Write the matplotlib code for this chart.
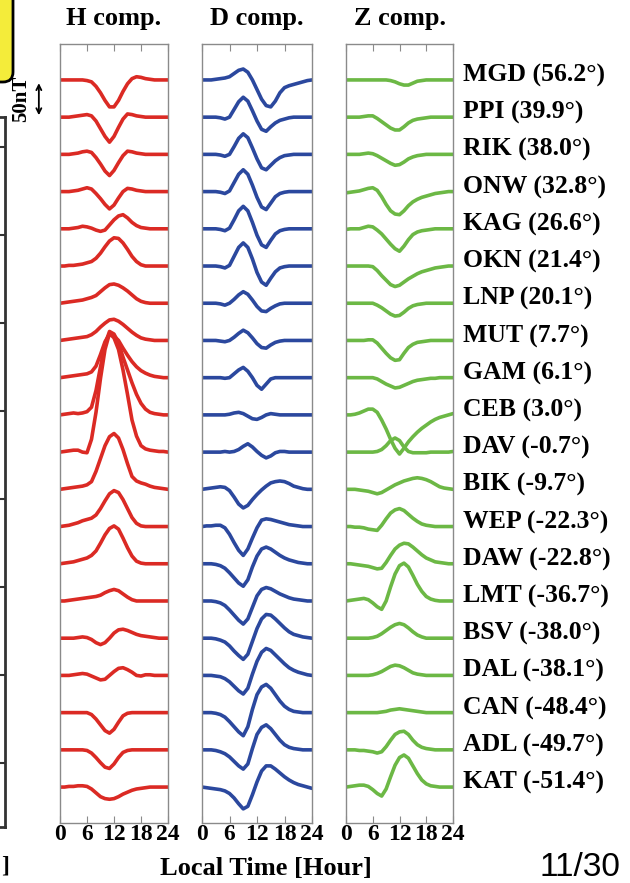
import matplotlib
matplotlib.use("Agg")
import matplotlib.pyplot as plt
from matplotlib.patches import FancyBboxPatch
from matplotlib.transforms import IdentityTransform

plt.rcParams["font.family"] = ["Liberation Serif", "DejaVu Serif"]
plt.rcParams["font.weight"] = "bold"

# ---- data (nT, relative to each station's baseline) ----
hours = list(range(25))
xticks = [0, 6, 12, 18, 24]

stations = ["MGD", "PPI", "RIK", "ONW", "KAG", "OKN", "LNP", "MUT", "GAM", "CEB",
            "DAV", "BIK", "WEP", "DAW", "LMT", "BSV", "DAL", "CAN", "ADL", "KAT"]
latitudes = ["56.2", "39.9", "38.0", "32.8", "26.6", "21.4", "20.1", "7.7", "6.1", "3.0",
             "-0.7", "-9.7", "-22.3", "-22.8", "-36.7", "-38.0", "-38.1", "-48.4", "-49.7", "-51.4"]

h_comp = [
    [0, 0, 0, 0, 0, 0, -1, -3, -10, -20, -32, -42, -42, -32, -18, -6, 2, 5, 4, 2, 1, 0, 0, 0, 0],
    [0, 0, 0, 1, 2, 3, 4, 2, -6, -18, -30, -39, -30, -16, -3, 5, 4, 2, 1, 0, 0, 0, 0, 0, 0],
    [0, 0, 0, 1, 2, 4, 5, 3, -5, -15, -26, -33, -25, -13, -2, 5, 4, 2, 1, 0, 0, 0, 0, 0, 0],
    [0, 0, 0, 1, 2, 4, 6, 4, -3, -11, -20, -27, -21, -10, 0, 5, 4, 2, 1, 0, 0, 0, 0, 0, 0],
    [0, 0, 0, 1, 2, 4, 3, 1, -2, -4, -2, 6, 14, 20, 22, 17, 10, 5, 2, 1, 0, 0, 0, 0, 0],
    [0, 0, 1, 1, 2, 3, 5, 7, 12, 20, 30, 39, 44, 43, 36, 26, 15, 7, 2, 0, 0, 0, 0, 0, 0],
    [0, 1, 2, 3, 4, 5, 7, 9, 12, 18, 24, 29, 30, 28, 24, 19, 13, 7, 3, 1, 0, 0, 0, 0, 0],
    [0, 1, 2, 3, 4, 5, 6, 9, 14, 21, 27, 32, 33, 30, 25, 19, 13, 8, 4, 2, 1, 0, 0, 0, 0],
    [0, 1, 2, 3, 4, 5, 6, 9, 18, 36, 56, 68, 65, 58, 46, 35, 25, 17, 11, 7, 4, 2, 1, 0, 0],
    [0, 1, 2, 3, 2, 3, 5, 12, 38, 75, 110, 130, 126, 112, 90, 70, 50, 32, 18, 9, 4, 2, 1, 0, 0],
    [0, 1, 2, 3, 3, 0, -1, 20, 62, 115, 160, 185, 178, 160, 128, 90, 50, 25, 10, 5, 3, 2, 1, 1, 0],
    [0, 1, 2, 3, 4, 5, 7, 12, 28, 48, 68, 82, 87, 80, 62, 40, 20, 13, 10, 8, 5, 3, 2, 1, 0],
    [0, 1, 2, 4, 6, 9, 11, 13, 18, 28, 40, 51, 56, 53, 42, 28, 14, 5, 1, 0, 0, 0, 0, 0, 0],
    [0, 1, 2, 3, 5, 7, 9, 13, 20, 32, 45, 55, 59, 54, 40, 25, 12, 4, 1, 0, 0, 0, 0, 0, 0],
    [0, 0, 1, 2, 3, 4, 5, 6, 7, 9, 13, 16, 18, 16, 11, 6, 2, 0, 0, 0, 0, 0, 0, 0, 0],
    [0, 0, 0, 0, 1, 2, 1, -2, -7, -10, -7, 0, 8, 13, 14, 12, 9, 6, 4, 3, 2, 1, 0, 0, 0],
    [0, 0, 0, 1, 2, 3, 2, -1, -4, -7, -6, 0, 6, 11, 12, 9, 5, 0, -1, 1, 1, 0, 0, 0, 0],
    [0, 0, 0, 0, 0, 0, 0, -3, -10, -19, -28, -32, -26, -15, -5, -1, 0, 0, 0, 0, 0, 0, 0, 0, 0],
    [0, 0, 0, 0, 0, 0, -1, -5, -12, -20, -27, -29, -22, -12, -4, -1, 0, 0, 0, 0, 0, 0, 0, 0, 0],
    [0, 0, 1, 1, 2, 2, 1, -3, -9, -15, -18, -19, -18, -15, -11, -8, -5, -3, -2, -1, 0, 0, 0, 0, 0],
]

d_comp = [
    [0, 0, 0, 1, 2, 3, 5, 10, 15, 17, 12, 0, -15, -30, -40, -42, -33, -20, -12, -9, -7, -5, -3, -1, 0],
    [0, 0, 0, 0, -1, -3, 0, 12, 24, 31, 25, 10, -6, -19, -22, -15, -9, -5, -3, -1, 0, 0, 0, 0, 0],
    [0, 0, 0, 0, -1, -3, 0, 12, 25, 32, 26, 10, -7, -21, -24, -17, -10, -5, -2, -1, 0, 0, 0, 0, 0],
    [0, 0, 0, 0, -1, -3, 1, 14, 27, 34, 27, 10, -9, -24, -28, -18, -8, -3, -1, 0, 0, 0, 0, 0, 0],
    [0, 0, 0, 0, -1, -3, 1, 14, 28, 35, 28, 10, -10, -25, -29, -18, -8, -3, -1, 0, 0, 0, 0, 0, 0],
    [0, 0, 0, 0, -1, -3, 1, 15, 29, 36, 29, 11, -10, -25, -30, -19, -9, -3, -1, 0, 0, 0, 0, 0, 0],
    [0, 0, 0, 0, -1, -3, 0, 6, 13, 18, 14, 5, -5, -12, -13, -8, -4, -1, 0, 0, 0, 0, 0, 0, 0],
    [0, 0, 0, 0, -1, -2, 0, 5, 11, 16, 12, 4, -5, -11, -12, -7, -3, -1, 0, 0, 0, 0, 0, 0, 0],
    [0, 0, 0, 0, 0, -1, 0, 6, 12, 16, 10, 0, -12, -18, -10, -2, 0, 0, 0, 0, 0, 0, 0, 0, 0],
    [0, 0, 0, 0, 0, 0, 1, 3, 4, 2, -2, -6, -7, -4, 0, 2, 1, 0, 0, 0, 0, 0, 0, 0, 0],
    [0, 0, 0, 0, 0, 1, 0, 1, 4, 9, 13, 8, 1, -5, -9, -6, -1, 1, 1, 0, 0, 0, 0, 0, 0],
    [0, 1, 2, 3, 4, 3, -2, -12, -23, -29, -25, -16, -8, -1, 5, 10, 12, 13, 12, 9, 5, 3, 1, 0, 0],
    [0, 1, 1, 2, 2, -2, -12, -25, -37, -45, -35, -18, -2, 10, 12, 11, 9, 7, 5, 3, 2, 1, 0, 0, 0],
    [0, 0, 0, -1, -3, -7, -14, -22, -30, -35, -25, -5, 12, 23, 26, 23, 18, 13, 9, 6, 4, 2, 1, 0, 0],
    [0, 0, 0, -1, -3, -7, -14, -22, -30, -36, -28, -10, 8, 18, 21, 19, 15, 11, 8, 5, 3, 2, 1, 0, 0],
    [0, 0, 0, -1, -3, -6, -12, -20, -27, -33, -25, -5, 15, 30, 37, 36, 30, 23, 16, 10, 6, 4, 2, 1, 0],
    [0, 0, 0, -1, -2, -5, -10, -17, -24, -29, -20, 2, 22, 36, 42, 39, 32, 25, 18, 12, 8, 5, 3, 1, 0],
    [0, 0, 0, -1, -3, -7, -14, -22, -30, -36, -22, 5, 28, 40, 44, 38, 28, 18, 10, 5, 2, 1, 0, 0, 0],
    [0, 0, 0, -1, -3, -6, -11, -18, -25, -30, -22, 2, 24, 35, 39, 33, 24, 15, 8, 4, 2, 1, 0, 0, 0],
    [0, -1, -2, -3, -4, -6, -10, -17, -26, -34, -30, -12, 8, 25, 33, 33, 28, 22, 16, 11, 7, 4, 2, 0, -2],
]

z_comp = [
    [0, 0, 0, 0, 0, 0, 0, 0, 0, 0, -1, -3, -6, -8, -8, -5, -2, -1, 0, 0, 0, 0, 0, 0, 0],
    [0, 0, 0, 0, 1, 2, 2, -2, -7, -12, -17, -20, -20, -15, -9, -5, -3, -2, -1, 0, 0, 0, 0, 0, 0],
    [0, 0, 0, 0, 1, 2, 1, -2, -6, -10, -14, -17, -16, -12, -7, -4, -2, -1, 0, 0, 0, 0, 0, 0, 0],
    [-2, -1, 0, 1, 3, 5, 6, 2, -8, -20, -30, -35, -36, -30, -22, -16, -12, -9, -7, -5, -3, -2, -1, 0, 0],
    [-1, 0, 0, 0, 2, 4, 3, -2, -8, -16, -24, -31, -35, -27, -17, -9, -5, -3, -2, -1, 0, 0, 0, 0, 0],
    [0, 0, 0, 0, 0, 0, -1, -7, -15, -22, -29, -32, -30, -25, -20, -16, -12, -9, -7, -5, -3, -2, -1, 0, 0],
    [0, 0, 0, 0, 0, 0, 0, -3, -7, -12, -17, -20, -19, -14, -8, -4, -2, -1, 0, 0, 0, 0, 0, 0, 0],
    [0, 0, 0, 0, 0, 1, 1, -4, -12, -20, -27, -31, -30, -20, -11, -6, -3, -2, -1, 0, 0, 0, 0, 0, 0],
    [0, 0, 0, 0, 0, 0, 0, -2, -6, -10, -13, -16, -15, -12, -9, -6, -4, -3, -2, -1, -1, 0, 0, 0, 0],
    [0, 0, 1, 3, 6, 9, 9, 4, -8, -22, -38, -52, -61, -52, -42, -34, -27, -21, -16, -11, -7, -4, -2, 0, 2],
    [0, 0, 0, 0, 0, 0, 0, 1, 4, 10, 18, 22, 18, 8, 1, -1, -1, -1, -1, 0, 0, 0, 0, 0, 1],
    [0, 0, 0, -1, -2, -3, -5, -7, -5, -1, 3, 7, 10, 13, 15, 17, 18, 17, 15, 12, 8, 4, 2, 1, 0],
    [0, 0, -1, -1, -2, -4, -5, -6, 2, 12, 21, 26, 28, 25, 19, 13, 8, 4, 2, 1, 0, 0, 0, 0, 0],
    [0, 0, -1, -2, -3, -4, -6, -8, -7, 2, 13, 23, 29, 32, 31, 26, 20, 14, 9, 6, 3, 2, 1, 0, 0],
    [0, 1, 2, 3, 4, 2, -3, -9, -13, 0, 22, 42, 55, 59, 53, 40, 26, 15, 7, 3, 1, 0, 0, 0, 0],
    [0, 0, 0, 0, 0, 0, 1, 3, 7, 12, 17, 21, 23, 21, 16, 10, 5, 2, 0, 0, 0, 0, 0, 0, 0],
    [0, 0, 0, 0, 0, 0, 1, 3, 6, 10, 14, 16, 15, 12, 8, 4, 2, 1, 0, 0, 0, 0, 0, 0, 0],
    [0, 0, 0, 0, 0, 0, 0, 0, 1, 2, 4, 5, 6, 5, 4, 3, 2, 1, 0, 0, 0, 0, 0, 0, 0],
    [0, 0, 0, -1, -1, -2, -3, -5, -3, 5, 15, 24, 28, 29, 24, 15, 8, 4, 2, 1, 0, 0, 0, 0, 0],
    [0, 1, 2, 3, 3, 1, -4, -10, -14, -3, 16, 34, 46, 50, 45, 33, 21, 11, 5, 2, 1, 0, 0, 0, 0],
]

spacing = 58          # nT between stacked traces
scale_bar = 50        # nT
left_panel_ticks = [1, 2, 3, 4, 5, 6, 7, 8]

# ---- layout (pixels) ----
W, H = 630, 883
fig = plt.figure(figsize=(W / 100, H / 100), dpi=100)


def px_axes(x0, x1, y0, y1):
    return fig.add_axes([x0 / W, 1 - y1 / H, (x1 - x0) / W, (y1 - y0) / H])


top_px, bot_px = 44, 823
panels = [
    (60, 168, h_comp, "#db2a24", "H comp."),
    (202, 312, d_comp, "#2b489e", "D comp."),
    (346, 453, z_comp, "#6cb845", "Z comp."),
]
ylim = (-spacing * (len(stations) - 1) - 56, 56)
grey = "#8a8a8a"

axes = []
for x0, x1, comp, color, title in panels:
    ax = px_axes(x0, x1, top_px, bot_px)
    for i, vals in enumerate(comp):
        ax.plot(hours, [v - i * spacing for v in vals], color=color, lw=2.6,
                solid_joinstyle="round", solid_capstyle="round")
    ax.set_xlim(0, 24)
    ax.set_ylim(ylim)
    ax.set_yticks([])
    ax.set_xticks(xticks)
    ax.set_xticklabels([str(t) for t in xticks], fontsize=17, fontweight="bold")
    ax.tick_params(axis="x", direction="in", top=True, length=5, width=0.8,
                   color=grey, pad=1)
    for s in ax.spines.values():
        s.set_color(grey)
        s.set_linewidth(1.0)
    ax.text(0.5, 1 + 26 / (bot_px - top_px), title, transform=ax.transAxes,
            ha="center", va="center", fontsize=19, fontweight="bold")
    axes.append(ax)

ax_h, ax_d, ax_z = axes

# station labels
for i, (st, lat) in enumerate(zip(stations, latitudes)):
    ax_z.text(24 + 10 / 4.46, -i * spacing + 7, "{} ({}°)".format(st, lat),
              ha="left", va="center", fontsize=18.5, fontweight="bold", clip_on=False)

# scale bar
ax_h.annotate("", xy=(-4.7, -5 - scale_bar), xytext=(-4.7, -5),
              arrowprops=dict(arrowstyle="<->", lw=1.3, color="black",
                              shrinkA=0, shrinkB=0, mutation_scale=9),
              annotation_clip=False)
fig.text(21 / W, 1 - 99 / H, "{}nT".format(scale_bar), rotation=90, ha="center",
         va="center", fontsize=15, fontweight="bold")

fig.text(266 / W, 1 - 868 / H, "Local Time [Hour]", ha="center", va="center",
         fontsize=19, fontweight="bold")
fig.text(620 / W, 1 - 868 / H, "11/30", ha="right", va="center",
         fontsize=24, fontweight="normal", family="Liberation Sans")

# cropped neighbouring panel on the left edge
ax_l = px_axes(-100, 5, 117, 827)
ax_l.set_xticks([])
ax_l.set_ylim(8.73, 0.66)
ax_l.set_yticks(left_panel_ticks)
ax_l.set_yticklabels([])
ax_l.yaxis.tick_right()
ax_l.tick_params(axis="y", direction="in", length=5, width=1.5, color="#333333")
for s in ax_l.spines.values():
    s.set_color("#333333")
    s.set_linewidth(2.0)
fig.text(1 / W, 1 - 866 / H, "]", ha="left", va="center", fontsize=17,
         fontweight="bold")

# yellow call-out box cut off at the top-left corner
box = FancyBboxPatch((-40, H - 82), 53, 130, boxstyle="round,pad=0,rounding_size=10",
                     facecolor="#f4ec3a", edgecolor="black", lw=2,
                     transform=IdentityTransform())
fig.add_artist(box)

fig.savefig("out.png", dpi=100)
